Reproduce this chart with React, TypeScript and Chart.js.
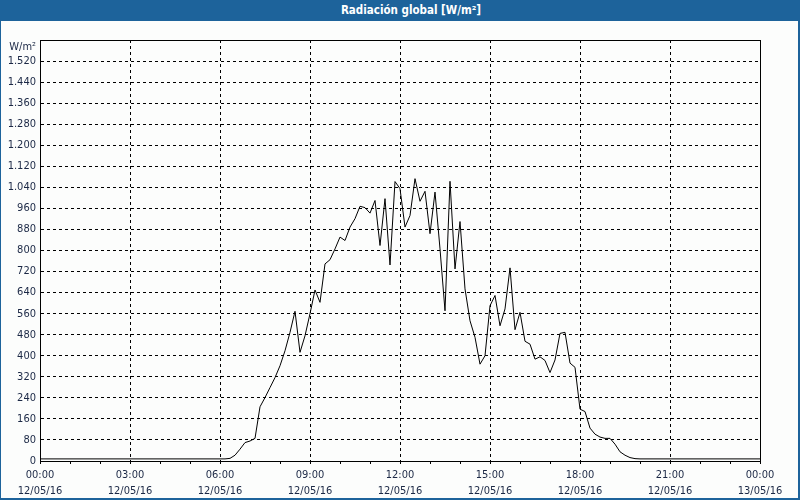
import React, { useEffect, useRef } from 'react';
import { Chart, registerables } from 'chart.js';

Chart.register(...registerables);

const TITLE = 'Radiación global [W/m²]';
const UNIT_LABEL = 'W/m²';

// x axis tick labels (every 3 hours)
const xTickTimes = ['00:00', '03:00', '06:00', '09:00', '12:00', '15:00', '18:00', '21:00', '00:00'];
const xTickDates = ['12/05/16', '12/05/16', '12/05/16', '12/05/16', '12/05/16', '12/05/16', '12/05/16', '12/05/16', '13/05/16'];

// sampling interval of the series, minutes
const SAMPLE_MINUTES = 10;

// global radiation, W/m², every 10 minutes from 12/05/16 00:00 to 13/05/16 00:00
const radiation = [
  8, 8, 8, 8, 8, 8, // 00h
  8, 8, 8, 8, 8, 8, // 01h
  8, 8, 8, 8, 8, 8, // 02h
  8, 8, 8, 8, 8, 8, // 03h
  8, 8, 8, 8, 8, 8, // 04h
  8, 8, 8, 8, 8, 8, // 05h
  8, 8, 10, 22, 45, 70, // 06h
  76, 86, 206, 241, 279, 317, // 07h
  362, 419, 489, 569, 413, 476, // 08h
  560, 650, 603, 749, 765, 806, // 09h
  851, 838, 889, 921, 968, 963, // 10h
  942, 990, 819, 997, 745, 1062, // 11h
  1035, 889, 933, 1073, 987, 1025, // 12h
  864, 1022, 806, 571, 1063, 730, // 13h
  910, 654, 533, 470, 368, 400, // 14h
  590, 629, 514, 578, 734, 499, // 15h
  565, 455, 444, 387, 396, 382, // 16h
  336, 384, 485, 489, 372, 356, // 17h
  197, 188, 125, 102, 91, 86, // 18h
  86, 64, 35, 22, 13, 9, // 19h
  8, 8, 8, 8, 8, 8, // 20h
  8, 8, 8, 8, 8, 8, // 21h
  8, 8, 8, 8, 8, 8, // 22h
  8, 8, 8, 8, 8, 8, // 23h
  8, // 24h
];

const BLUE = '#1d639b';
const TEXT = '#1b2845';
const FONT_FAMILY = '"DejaVu Sans Condensed", "DejaVu Sans", "Liberation Sans", sans-serif';

const framePlugin = {
  id: 'frame',
  afterDraw(chart: any) {
    const { ctx, chartArea } = chart;
    const l = Math.round(chartArea.left) + 0.5;
    const t = Math.round(chartArea.top) + 0.5;
    const r = Math.round(chartArea.right) + 0.5;
    const b = Math.round(chartArea.bottom) + 0.5;
    ctx.save();
    ctx.strokeStyle = '#000';
    ctx.lineWidth = 1;
    ctx.setLineDash([]);
    ctx.strokeRect(l, t, r - l, b - t);
    ctx.restore();
  },
};

function formatThousands(v: number): string {
  if (v >= 1000) {
    const th = Math.floor(v / 1000);
    const rest = String(v % 1000).padStart(3, '0');
    return th + '.' + rest;
  }
  return String(v);
}

export default function App() {
  const canvasRef = useRef<HTMLCanvasElement | null>(null);

  useEffect(() => {
    if (!canvasRef.current) return;
    const points = radiation.map((v, i) => ({ x: i * SAMPLE_MINUTES, y: v }));
    const chart = new Chart(canvasRef.current, {
      type: 'line',
      data: {
        datasets: [
          {
            data: points,
            borderColor: '#000',
            borderWidth: 1,
            pointRadius: 0,
            tension: 0,
            fill: false,
          },
        ],
      },
      options: {
        animation: false,
        responsive: false,
        maintainAspectRatio: false,
        layout: { padding: { top: 40, right: 40, left: 0, bottom: 0 } },
        plugins: {
          legend: { display: false },
          tooltip: { enabled: false },
          title: { display: false },
        },
        scales: {
          x: {
            type: 'linear',
            min: 0,
            max: 1440,
            afterFit: (s: any) => {
              s.height = 39;
            },
            ticks: {
              stepSize: 60,
              autoSkip: false,
              maxRotation: 0,
              minRotation: 0,
              padding: 3,
              color: TEXT,
              font: { family: FONT_FAMILY, size: 11, lineHeight: '16px' },
              callback: (value: any) => {
                const v = Number(value);
                if (v % 180 !== 0) return '';
                const i = v / 180;
                return [xTickTimes[i], xTickDates[i]];
              },
            },
            grid: {
              color: (ctx: any) => (ctx.tick && ctx.tick.value % 180 === 0 ? '#000' : 'rgba(0,0,0,0)'),
              lineWidth: 1,
              drawTicks: true,
              tickLength: 3,
              tickColor: '#000',
            },
            border: { display: true, color: '#000', width: 1, dash: [3, 3] },
          },
          y: {
            min: 0,
            max: 1600,
            afterFit: (s: any) => {
              s.width = 40;
            },
            ticks: {
              stepSize: 80,
              padding: 4,
              color: TEXT,
              font: { family: FONT_FAMILY, size: 11 },
              callback: (value: any) => {
                const v = Number(value);
                if (v >= 1600) return '';
                return formatThousands(v);
              },
            },
            grid: { color: '#000', lineWidth: 1, drawTicks: false },
            border: { display: true, color: '#000', width: 1, dash: [3, 3] },
          },
        },
      },
      plugins: [framePlugin],
    } as any);
    return () => chart.destroy();
  }, []);

  return (
    <div
      style={{
        position: 'fixed',
        left: 0,
        top: 0,
        width: 800,
        height: 500,
        background: '#fcfdfc',
        overflow: 'hidden',
      }}
    >
      <canvas ref={canvasRef} width={800} height={500} style={{ position: 'absolute', left: 0, top: 0, width: 800, height: 500 }} />
      <div
        style={{
          position: 'absolute',
          left: 0,
          top: 0,
          width: 800,
          height: 21,
          background: BLUE,
          color: '#fff',
          fontFamily: FONT_FAMILY,
          fontWeight: 'bold',
          fontSize: '11.5px',
          lineHeight: '21px',
          textAlign: 'center',
          paddingLeft: 22,
          boxSizing: 'border-box',
        }}
      >
        {TITLE}
      </div>
      <div
        style={{
          position: 'absolute',
          left: 0,
          top: 40,
          width: 36,
          lineHeight: '13px',
          textAlign: 'right',
          fontFamily: FONT_FAMILY,
          fontSize: '11px',
          color: TEXT,
        }}
      >
        {UNIT_LABEL}
      </div>
      <div
        style={{
          position: 'absolute',
          left: 0,
          top: 0,
          width: 800,
          height: 500,
          boxSizing: 'border-box',
          borderLeft: `1px solid ${BLUE}`,
          borderRight: `2px solid ${BLUE}`,
          borderBottom: `2px solid ${BLUE}`,
          pointerEvents: 'none',
        }}
      />
    </div>
  );
}
